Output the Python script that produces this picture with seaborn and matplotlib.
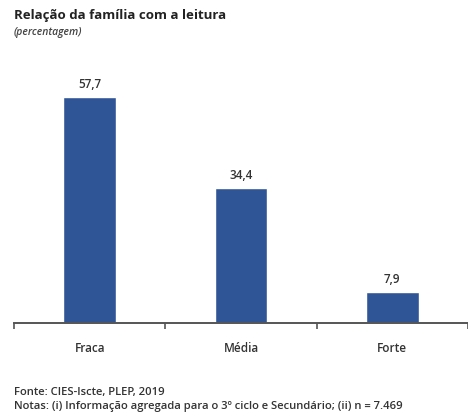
import matplotlib
matplotlib.use("Agg")
import matplotlib.pyplot as plt
import seaborn as sns
import pandas as pd

categories = ["Fraca", "Média", "Forte"]
values = [57.7, 34.4, 7.9]
value_labels = ["57,7", "34,4", "7,9"]

sns.set_theme(style="white")
plt.rcParams['font.family'] = ['Open Sans', 'DejaVu Sans']

df = pd.DataFrame({"cat": categories, "val": values})

fig = plt.figure(figsize=(4.68, 4.17), dpi=100)
ax = fig.add_axes([14/468, 1-323/417, 1-14/468, (323-68)/417])
sns.barplot(data=df, x="cat", y="val", color="#2F5597", width=0.35, ax=ax, saturation=1)
ax.set_ylim(0, 65)
ax.set_xlim(-0.5, 2.5)
for s in ["top", "right", "left"]:
    ax.spines[s].set_visible(False)
ax.spines["bottom"].set_color("#555555")
ax.spines["bottom"].set_linewidth(1.4)
ax.set_yticks([])
ax.set_xlabel("")
ax.set_ylabel("")
ax.set_xticks([-0.5, 0.5, 1.5, 2.5], minor=False)
ax.set_xticklabels([])
ax.tick_params(axis="x", which="major", direction="out", length=4, width=1.2, color="#555555", bottom=True)
for i, c in enumerate(categories):
    ax.text(i, -6.6, c, ha="center", va="center", fontsize=8.5, color="#333333", fontweight="semibold")
for i, (v, lab) in enumerate(zip(values, value_labels)):
    ax.text(i, v + 3.1, lab, ha="center", va="center", fontsize=8.5, color="#333333", fontweight="semibold")

fig.text(14/468, 1-15/417, "Relação da família com a leitura", fontsize=9.5, fontweight="bold",
         color="#222222", va="center", ha="left")
fig.text(14/468, 1-33/417, "(percentagem)", fontsize=7.5, fontstyle="italic",
         color="#444444", va="center", ha="left", fontweight="semibold")
fig.text(14/468, 1-392/417, "Fonte: CIES-Iscte, PLEP, 2019", fontsize=8.1,
         color="#333333", va="center", ha="left", fontweight="semibold")
fig.text(14/468, 1-407/417, "Notas: (i) Informação agregada para o 3º ciclo e Secundário; (ii) n = 7.469",
         fontsize=8.1, color="#333333", va="center", ha="left", fontweight="semibold")

fig.savefig("out.png", dpi=100)
